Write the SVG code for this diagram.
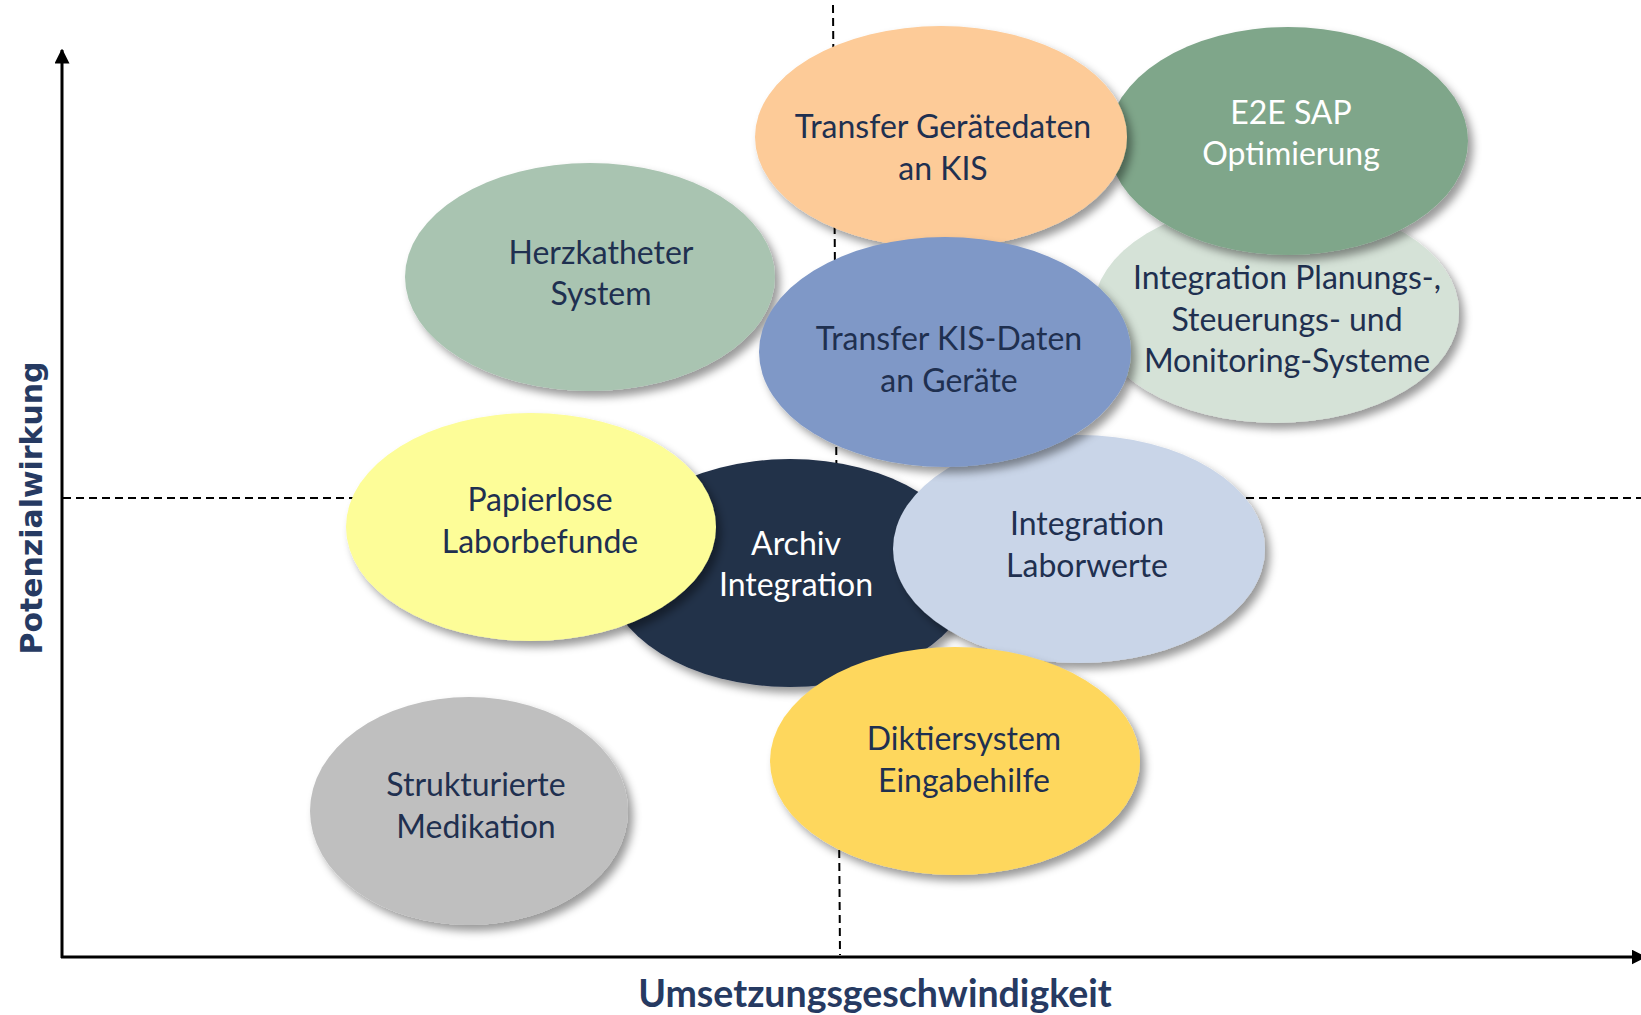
<svg xmlns="http://www.w3.org/2000/svg" width="1641" height="1015" viewBox="0 0 1641 1015">
<defs>
<filter id="sh" x="-20%" y="-20%" width="150%" height="150%">
<feDropShadow dx="5" dy="6" stdDeviation="4" flood-color="#000" flood-opacity="0.4"/>
</filter>
<marker id="arr" viewBox="0 0 10 10" refX="9" refY="5" markerWidth="5" markerHeight="5" orient="auto" markerUnits="strokeWidth">
<path d="M0,0 L10,5 L0,10 z" fill="#000"/>
</marker>
</defs>
<style>
.lbl{font-family:Lato,"Open Sans","Liberation Sans",sans-serif;font-size:32px;fill:#1F3050;text-anchor:middle}
.wh{fill:#FFFFFF}
.ax{font-family:Lato,"Liberation Sans",sans-serif;font-weight:bold;font-size:37.5px;fill:#263A62;text-anchor:middle}
.ay{font-family:"DejaVu Sans",Verdana,sans-serif;font-weight:bold;font-size:30px;fill:#263A62;text-anchor:middle}
.dash{stroke:#000;stroke-width:2;stroke-dasharray:8 5;fill:none}
ellipse{filter:url(#sh)}
</style>
<rect width="1641" height="1015" fill="#FFFFFF"/>
<g id="connectors">
<line class="dash" x1="833" y1="5" x2="840" y2="955"/>
<line class="dash" x1="63" y1="498" x2="1641" y2="498"/>
<line x1="62" y1="958" x2="62" y2="50" stroke="#000" stroke-width="3" marker-end="url(#arr)"/>
<line x1="61" y1="957" x2="1645" y2="957" stroke="#000" stroke-width="3" marker-end="url(#arr)"/>
</g>
<g id="planung">
<ellipse cx="1276" cy="312" rx="183" ry="111" fill="#D5E2D7"/>
<text class="lbl" x="1287" y="289">Integration Planungs-,</text>
<text class="lbl" x="1287" y="331">Steuerungs- und</text>
<text class="lbl" x="1287" y="372">Monitoring-Systeme</text>
</g>
<g id="e2e">
<ellipse cx="1288" cy="141" rx="180" ry="114" fill="#7FA68A"/>
<text class="lbl wh" x="1291" y="124">E2E SAP</text>
<text class="lbl wh" x="1291" y="165">Optimierung</text>
</g>
<g id="geraetedaten">
<ellipse cx="941" cy="137" rx="186" ry="111" fill="#FDCB98"/>
<text class="lbl" x="943" y="138">Transfer Gerätedaten</text>
<text class="lbl" x="943" y="180">an KIS</text>
</g>
<g id="herzkatheter">
<ellipse cx="590" cy="277" rx="185" ry="114" fill="#A9C4B1"/>
<text class="lbl" x="601" y="264">Herzkatheter</text>
<text class="lbl" x="601" y="305">System</text>
</g>
<g id="archiv">
<ellipse cx="790" cy="573" rx="183" ry="114" fill="#213049"/>
<text class="lbl wh" x="796" y="555">Archiv</text>
<text class="lbl wh" x="796" y="596">Integration</text>
</g>
<g id="papierlose">
<ellipse cx="531" cy="527" rx="185" ry="114" fill="#FDFD98"/>
<text class="lbl" x="540" y="511">Papierlose</text>
<text class="lbl" x="540" y="553">Laborbefunde</text>
</g>
<g id="laborwerte">
<ellipse cx="1079" cy="549" rx="186" ry="114" fill="#C9D5E8"/>
<text class="lbl" x="1087" y="535">Integration</text>
<text class="lbl" x="1087" y="577">Laborwerte</text>
</g>
<g id="kisdaten">
<ellipse cx="945" cy="352" rx="186" ry="115" fill="#7F98C7"/>
<text class="lbl" x="949" y="350">Transfer KIS-Daten</text>
<text class="lbl" x="949" y="392">an Geräte</text>
</g>
<g id="diktier">
<ellipse cx="955" cy="761" rx="185" ry="114" fill="#FED75D"/>
<text class="lbl" x="964" y="750">Diktiersystem</text>
<text class="lbl" x="964" y="792">Eingabehilfe</text>
</g>
<g id="medikation">
<ellipse cx="469" cy="811" rx="159" ry="114" fill="#BFBFBF"/>
<text class="lbl" x="476" y="796">Strukturierte</text>
<text class="lbl" x="476" y="838">Medikation</text>
</g>
<g id="axis-labels">
<text class="ax" x="875" y="1007">Umsetzungsgeschwindigkeit</text>
<text class="ay" transform="translate(42,508) rotate(-90)" x="0" y="0" textLength="293" lengthAdjust="spacingAndGlyphs">Potenzialwirkung</text>
</g>
</svg>
